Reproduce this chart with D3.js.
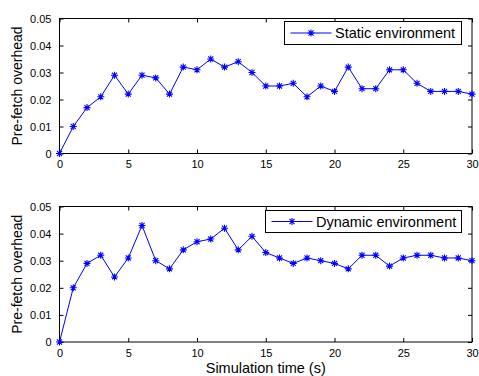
<!DOCTYPE html>
<html><head><meta charset="utf-8">
<script src="https://cdn.jsdelivr.net/npm/d3@7/dist/d3.min.js"></script>
<style>body{margin:0;background:#fff}svg{display:block}</style>
</head><body>
<script>
const times = d3.range(0, 31);
const staticValues = [0,0.010,0.017,0.021,0.029,0.022,0.029,0.028,0.022,0.032,0.031,0.035,0.032,0.034,0.030,0.025,0.025,0.026,0.021,0.025,0.023,0.032,0.024,0.024,0.031,0.031,0.026,0.023,0.023,0.023,0.022];
const dynamicValues = [0,0.020,0.029,0.032,0.024,0.031,0.043,0.030,0.027,0.034,0.037,0.038,0.042,0.034,0.039,0.033,0.031,0.029,0.031,0.030,0.029,0.027,0.032,0.032,0.028,0.031,0.032,0.032,0.031,0.031,0.030];
const xTicks = [0,5,10,15,20,25,30];
const yTicks = [0,0.01,0.02,0.03,0.04,0.05];
const yTickLabels = ["0","0.01","0.02","0.03","0.04","0.05"];
const seriesNames = ["Static environment","Dynamic environment"];
const yLabel = "Pre-fetch overhead";
const xLabel = "Simulation time (s)";

const W = 479, H = 376;
const svg = d3.select("body").append("svg").attr("width", W).attr("height", H);
const font = "Liberation Sans, Arial, sans-serif";
const x = d3.scaleLinear().domain([0,30]).range([59.5, 472]);

const panels = [
  {top: 18.5, bottom: 153.5, values: staticValues, name: seriesNames[0], legX: 284.5, legY: 21.5, legW: 177, legH: 23},
  {top: 206.5, bottom: 342, values: dynamicValues, name: seriesNames[1], legX: 265.5, legY: 210.5, legW: 196, legH: 22}
];

function star(g, cx, cy, r) {
  const d = r * 0.72;
  g.append("path")
    .attr("d", `M${cx-r},${cy}L${cx+r},${cy}M${cx},${cy-r}L${cx},${cy+r}M${cx-d},${cy-d}L${cx+d},${cy+d}M${cx-d},${cy+d}L${cx+d},${cy-d}`)
    .attr("stroke", "#0000ff").attr("stroke-width", 1.1).attr("fill", "none");
}

panels.forEach(p => {
  const y = d3.scaleLinear().domain([0,0.05]).range([p.bottom, p.top]);
  const g = svg.append("g");
  g.append("rect").attr("x", x(0)).attr("y", p.top).attr("width", x(30)-x(0)).attr("height", p.bottom-p.top)
    .attr("fill", "#fff").attr("stroke", "#000").attr("stroke-width", 1);
  const ax = g.append("g").attr("transform", `translate(0,${p.bottom})`)
    .call(d3.axisBottom(x).tickValues(xTicks).tickSize(-4).tickPadding(7).tickFormat(d3.format("d")));
  const axTop = g.append("g").attr("transform", `translate(0,${p.top})`)
    .call(d3.axisTop(x).tickValues(xTicks).tickSize(-4).tickFormat(""));
  const ay = g.append("g").attr("transform", `translate(${x(0)},0)`)
    .call(d3.axisLeft(y).tickValues(yTicks).tickSize(-4).tickPadding(8).tickFormat((d,i) => yTickLabels[i]));
  const ayR = g.append("g").attr("transform", `translate(${x(30)},0)`)
    .call(d3.axisRight(y).tickValues(yTicks).tickSize(-4).tickFormat(""));
  [ax, axTop, ay, ayR].forEach(a => {
    a.select(".domain").remove();
    a.selectAll("line").attr("stroke", "#000");
    a.selectAll("text").attr("font-family", font).attr("font-size", 11).attr("fill", "#000");
  });
  g.append("text").attr("transform", `translate(21.5,${(p.top+p.bottom)/2}) rotate(-90)`)
    .attr("text-anchor", "middle").attr("font-family", font).attr("font-size", 14).text(yLabel);
  const line = d3.line().x((d,i) => x(times[i])).y(d => y(d));
  g.append("path").datum(p.values).attr("d", line).attr("fill", "none").attr("stroke", "#0000ff").attr("stroke-width", 1);
  p.values.forEach((v,i) => star(g, x(times[i]), y(v), 3.5));
  g.append("rect").attr("x", p.legX).attr("y", p.legY).attr("width", p.legW).attr("height", p.legH)
    .attr("fill", "#fff").attr("stroke", "#000").attr("stroke-width", 1);
  const ly = p.legY + p.legH/2;
  g.append("line").attr("x1", p.legX+6).attr("x2", p.legX+47).attr("y1", ly).attr("y2", ly).attr("stroke", "#0000ff");
  star(g, p.legX+26.5, ly, 3.5);
  g.append("text").attr("x", p.legX+50.5).attr("y", ly+5).attr("font-family", font).attr("font-size", 14.5).text(p.name);
});

svg.append("text").attr("x", (x(0)+x(30))/2).attr("y", 373).attr("text-anchor", "middle")
  .attr("font-family", font).attr("font-size", 14.5).text(xLabel);
</script>
</body></html>
